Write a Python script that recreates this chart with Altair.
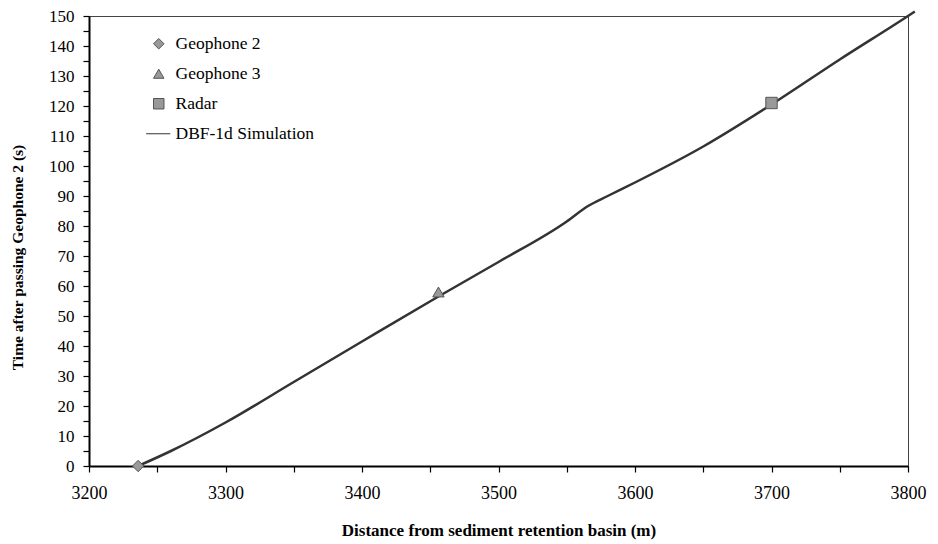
import altair as alt
import pandas as pd

# Measured marker points
series_names = ["Geophone 2", "Geophone 3", "Radar"]
obs_x = [3236, 3456, 3700]
obs_y = [0, 58, 121]

# DBF-1d Simulation curve
sim_x = [3236, 3260, 3300, 3350, 3400, 3456, 3500, 3550, 3565, 3580, 3600, 3650, 3700, 3750, 3800, 3805]
sim_y = [0, 5, 14.5, 28, 41.5, 56.5, 68, 81.5, 86.5, 90, 94.5, 106.5, 120.5, 135.5, 150, 151.5]

legend_domain = ["Geophone 2", "Geophone 3", "Radar", "DBF-1d Simulation"]

x_ticks = list(range(3200, 3801, 50))
y_ticks = list(range(0, 151, 5))

obs = pd.DataFrame({"x": obs_x, "y": obs_y, "series": series_names})
sim = pd.DataFrame({"x": sim_x, "y": sim_y})

FONT = "Liberation Serif"

xenc = alt.X("x:Q", scale=alt.Scale(domain=[3200, 3800], nice=False, zero=False),
             axis=alt.Axis(values=x_ticks, title="Distance from sediment retention basin (m)",
                           labelExpr="datum.value % 100 == 0 ? datum.label : ''",
                           format="d", grid=False, tickSize=6, labelPadding=12,
                           labelFontSize=18, titleFontSize=17,
                           labelFlush=False, titlePadding=20))
yenc = alt.Y("y:Q", scale=alt.Scale(domain=[0, 150], nice=False),
             axis=alt.Axis(values=y_ticks, title="Time after passing Geophone 2 (s)",
                           labelExpr="datum.value % 10 == 0 ? datum.label : ''",
                           grid=False, tickSize=6, labelPadding=9, labelFlush=False,
                           labelFontSize=17, titleFontSize=15.5,
                           titleAngle=270, titleAlign="center", titleBaseline="middle",
                           titleX=-72, titleY=241))

line = alt.Chart(sim).mark_line(color="#333333", strokeWidth=2.5, interpolate="monotone").encode(
    x=xenc, y=yenc)

shape_scale = alt.Scale(domain=legend_domain,
                        range=["diamond", "triangle-up", "square", "M-2.4,0L2.2,0"])
fill_scale = alt.Scale(domain=legend_domain, range=["#999999", "#999999", "#999999", "#333333"])
stroke_scale = alt.Scale(domain=legend_domain, range=["#555555", "#555555", "#555555", "#333333"])
sw_scale = alt.Scale(domain=legend_domain, range=[1, 1, 1, 2.5])

leg = alt.Legend(title=None, orient="none", legendX=61, legendY=19,
                 labelFont=FONT, labelFontSize=17.5, labelColor="black",
                 symbolSize=110, rowPadding=11, labelOffset=8, symbolOpacity=1)

points = alt.Chart(obs).mark_point(filled=True, size=130, opacity=1).encode(
    x=xenc, y=yenc,
    shape=alt.Shape("series:N", scale=shape_scale, legend=leg),
    fill=alt.Fill("series:N", scale=fill_scale, legend=leg),
    stroke=alt.Stroke("series:N", scale=stroke_scale, legend=leg),
    strokeWidth=alt.StrokeWidth("series:N", scale=sw_scale, legend=leg),
)

chart = alt.layer(line, points).properties(
    width=819, height=450,
    background="white",
    autosize=alt.AutoSizeParams(type="none"),
    padding={"left": 81, "top": 8, "right": 22, "bottom": 76},
).configure(
    font=FONT
).configure_view(
    stroke="#444444", strokeWidth=1
).configure_axis(
    labelFont=FONT, titleFont=FONT,
    labelColor="black", titleColor="black", titleFontWeight="bold",
    domainColor="black", domainWidth=2, tickColor="black", tickWidth=1.2,
).configure_legend(
    labelFont=FONT, labelColor="black",
)

chart.save("out.html", embed_options={"renderer": "svg", "actions": False})
